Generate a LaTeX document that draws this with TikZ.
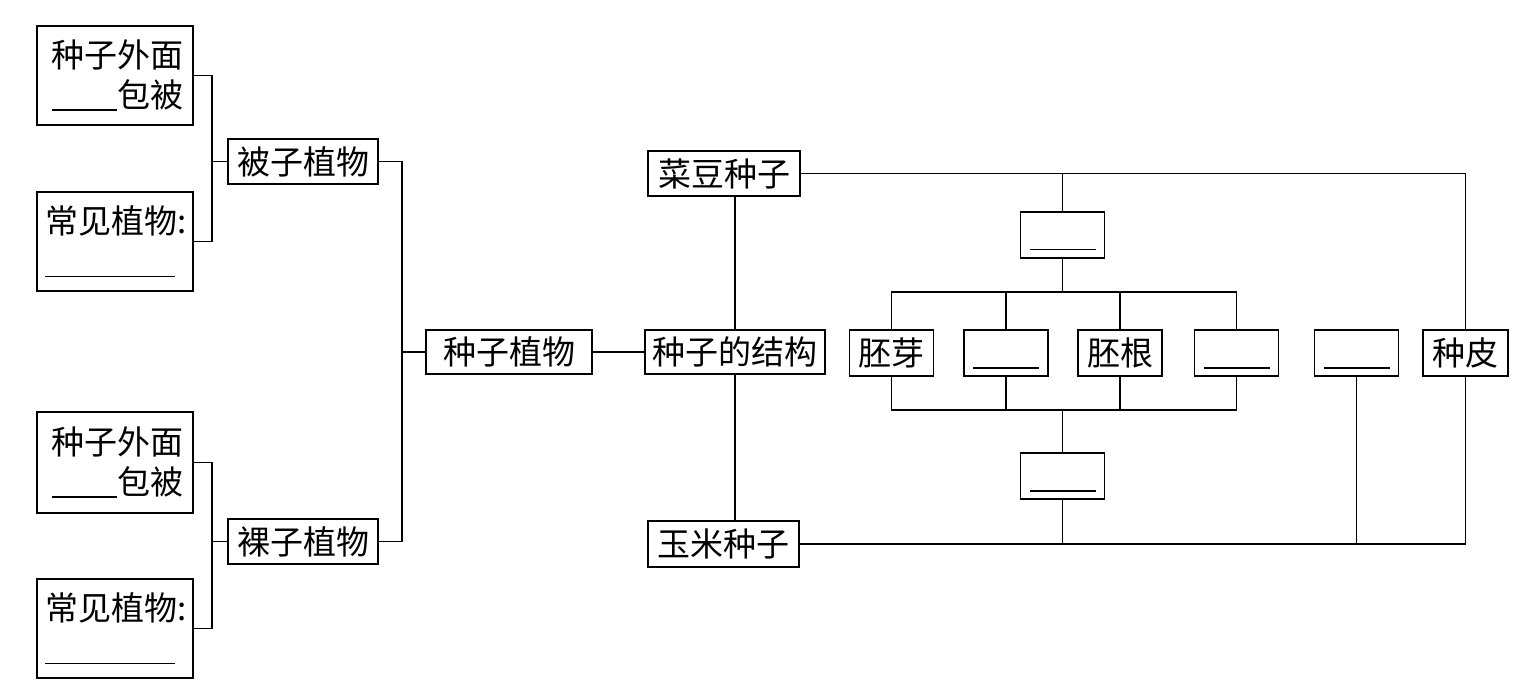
\documentclass[tikz,border=0pt]{standalone}
\usepackage{fontspec}
\setmainfont{Noto Sans CJK SC}
\newcommand\fsz{\fontsize{33}{40}\selectfont}
\newcommand\blankline[2][0pt]{\rule[#1]{#2}{1.4pt}}
\tikzset{
  bx/.style={draw, line width=1.6pt, inner sep=0pt, minimum height=45pt, font=\fsz},
  bk/.style={bx, minimum width=84pt, minimum height=46pt, text height=31pt, text depth=0pt},
  ln/.style={line width=1.6pt},
}
\begin{document}
\begin{tikzpicture}[x=1pt,y=-1pt]
\useasboundingbox (0,0) rectangle (1539,700);
% left part
\node[bx, minimum width=156pt, minimum height=99pt, text width=136pt, align=right] (a1) at (115,75.5) {种子外面\\\blankline[-3pt]{65pt}包被};
\node[bx, minimum width=156pt, minimum height=99pt, text width=140pt, align=left] (b1) at (115,241.5) {常见植物:\\[4pt]\blankline{130pt}};
\node[bx, minimum width=150pt] (bz) at (303,161.5) {被子植物};
\node[bx, minimum width=156pt, minimum height=101pt, text width=136pt, align=right] (a2) at (115,462.5) {种子外面\\\blankline[-3pt]{65pt}包被};
\node[bx, minimum width=156pt, minimum height=99pt, text width=140pt, align=left] (b2) at (115,628.5) {常见植物:\\[4pt]\blankline{130pt}};
\node[bx, minimum width=150pt] (lz) at (303,541.5) {裸子植物};
\node[bx, minimum width=166pt, minimum height=44pt] (zz) at (509,352) {种子植物};
\node[bx, minimum width=180pt, minimum height=44pt] (jg) at (735,352) {种子的结构};
\node[bx, minimum width=152pt] (cd) at (724,173.5) {菜豆种子};
\node[bx, minimum width=151pt, minimum height=46pt] (ym) at (723.5,544) {玉米种子};
% right part
\node[bk] (t) at (1062.5,235) {\blankline{66pt}};
\node[bx, minimum width=84pt, minimum height=46pt] (py) at (891.5,353) {胚芽};
\node[bk] (k2) at (1006,353) {\blankline{66pt}};
\node[bx, minimum width=84pt, minimum height=46pt] (pg) at (1120,353) {胚根};
\node[bk] (k4) at (1236.5,353) {\blankline{66pt}};
\node[bk] (k5) at (1356.5,353) {\blankline{66pt}};
\node[bx, minimum width=85pt, minimum height=46pt] (zp) at (1465.5,353) {种皮};
\node[bk] (bb) at (1062.5,476) {\blankline{66pt}};
% connectors left
\coordinate (j1) at (212,161.5);
\coordinate (j2) at (212,541.5);
\coordinate (j3) at (402,352);
\draw[ln] (a1.east) -| (j1) |- (b1.east);
\draw[ln] (j1) -- (bz.west);
\draw[ln] (a2.east) -| (j2) |- (b2.east);
\draw[ln] (j2) -- (lz.west);
\draw[ln] (bz.east) -| (j3) |- (lz.east);
\draw[ln] (j3) -- (zz.west);
\draw[ln] (zz.east) -- (jg.west);
\draw[ln] (jg.north) -- (jg.north |- cd.south);
\draw[ln] (jg.south) -- (jg.south |- ym.north);
% connectors right
\draw[ln] (cd.east) -| (zp.north);
\draw[ln] (t.north) -- (t.north |- cd.east);
\coordinate (tb) at (1062.5,292);
\coordinate (bt) at (1062.5,410);
\draw[ln] (t.south) -- (tb);
\draw[ln] (py.north) |- (tb) -| (k4.north);
\draw[ln] (k2.north) -- (k2.north |- tb);
\draw[ln] (pg.north) -- (pg.north |- tb);
\draw[ln] (py.south) |- (bt) -| (k4.south);
\draw[ln] (k2.south) -- (k2.south |- bt);
\draw[ln] (pg.south) -- (pg.south |- bt);
\draw[ln] (bt) -- (bb.north);
\draw[ln] (ym.east) -| (zp.south);
\draw[ln] (bb.south) -- (bb.south |- ym.east);
\draw[ln] (k5.south) -- (k5.south |- ym.east);
\end{tikzpicture}
\end{document}
